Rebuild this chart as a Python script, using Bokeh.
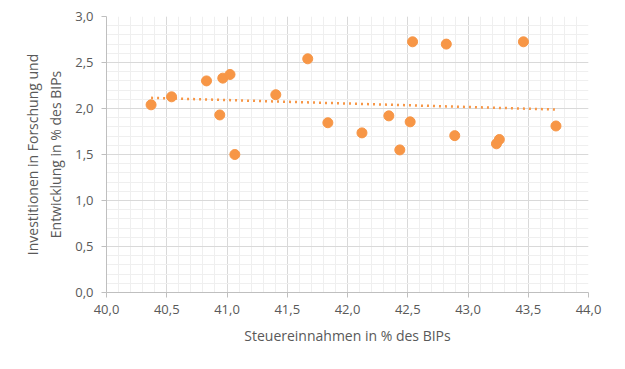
import numpy as np
from bokeh.plotting import figure
from bokeh.models import Range1d, SingleIntervalTicker, CustomJSTickFormatter, ColumnDataSource
from bokeh.embed import file_html
from bokeh.resources import INLINE

# Data
steuer = [40.37, 40.54, 40.83, 40.965, 41.025, 40.94, 41.065, 41.405, 41.67, 41.837,
          42.54, 42.82, 43.46, 42.12, 42.343, 42.52, 42.434, 42.89, 43.26, 43.236, 43.73]
fue = [2.04, 2.127, 2.30, 2.33, 2.37, 1.93, 1.50, 2.15, 2.54, 1.845,
       2.725, 2.70, 2.725, 1.735, 1.92, 1.855, 1.55, 1.705, 1.663, 1.616, 1.81]

x_label = "Steuereinnahmen in % des BIPs"
y_label = "Investitionen in Forschung und\nEntwicklung in % des BIPs"

ORANGE = "#F79646"
TEXT = "#595959"
FONT = "Open Sans"

W, H = 609, 353
p = figure(width=W, height=H, output_backend="svg", toolbar_location=None,
           x_range=Range1d(40, 44), y_range=Range1d(0, 3),
           min_border_left=106, min_border_right=21, min_border_top=16, min_border_bottom=61)
p.outline_line_color = None
p.background_fill_color = "white"
p.border_fill_color = "white"

fmt = CustomJSTickFormatter(code="return tick.toFixed(1).replace('.', ',');")
for ax in (p.xaxis[0], p.yaxis[0]):
    ax.ticker = SingleIntervalTicker(interval=0.5, num_minor_ticks=5)
    ax.formatter = fmt
    ax.axis_line_color = "#BFBFBF"
    ax.major_tick_line_color = "#BFBFBF"
    ax.major_tick_out = 5
    ax.major_tick_in = 0
    ax.minor_tick_line_color = None
    ax.major_label_text_font = FONT
    ax.major_label_text_font_size = "13px"
    ax.major_label_text_color = TEXT
    ax.axis_label_text_font = FONT
    ax.axis_label_text_font_size = "14px"
    ax.axis_label_text_font_style = "normal"
    ax.axis_label_text_color = TEXT

p.xaxis[0].axis_label = x_label
p.yaxis[0].axis_label = y_label
p.xaxis[0].major_label_standoff = 7
p.yaxis[0].major_label_standoff = 8
p.xaxis[0].axis_label_standoff = 9
p.yaxis[0].axis_label_standoff = 7

for g in (p.xgrid[0], p.ygrid[0]):
    g.grid_line_color = "#D9D9D9"
    g.minor_grid_line_color = "#EFEFEF"
    g.grid_line_width = 1
    g.minor_grid_line_width = 1

# linear trendline from data
xs = np.array(steuer)
ys = np.array(fue)
m, b = np.polyfit(xs, ys, 1)
tx = [xs.min(), xs.max()]
ty = [m * tx[0] + b, m * tx[1] + b]
p.line(tx, ty, line_color=ORANGE, line_width=2.5, line_dash="2 4")

src = ColumnDataSource(dict(x=steuer, y=fue))
p.scatter("x", "y", source=src, size=10, fill_color=ORANGE, line_color=ORANGE)

open("out.html", "w").write(file_html(p, INLINE))
